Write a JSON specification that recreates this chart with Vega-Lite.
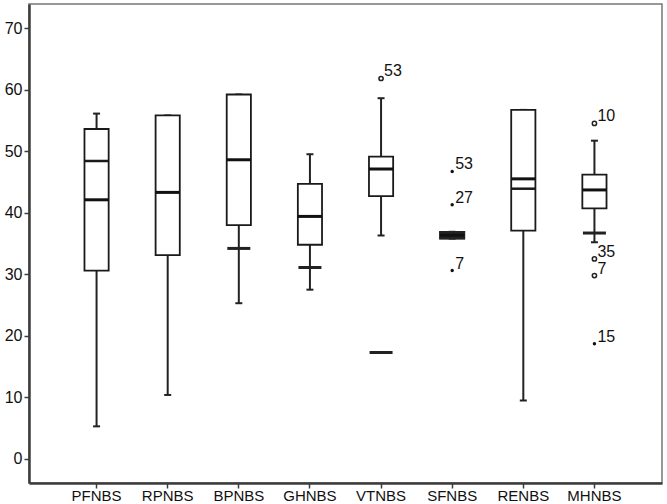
{
  "$schema": "https://vega.github.io/schema/vega-lite/v6.json",
  "width": 633,
  "height": 479,
  "autosize": "none",
  "padding": {"left": 29, "top": 4, "right": 5, "bottom": 21},
  "background": "white",
  "config": {
    "view": {"stroke": "#777777", "strokeWidth": 1.5},
    "tick": {"opacity": 1},
    "axis": {"grid": false, "domainColor": "#3c3c3c", "domainWidth": 2.5, "tickColor": "#3c3c3c", "tickWidth": 1.5, "tickSize": 5, "labelColor": "#111111", "labelFontSize": 16, "labelFont": "Liberation Sans", "title": null}
  },
  "datasets": {
    "boxes": [
      {"cat": "PFNBS", "lo": 5.3, "q1": 30.6, "med": 42.1, "q3": 53.6, "hi": 56.1},
      {"cat": "RPNBS", "lo": 10.4, "q1": 33.1, "med": 43.3, "q3": 55.8, "hi": 55.8},
      {"cat": "BPNBS", "lo": 25.3, "q1": 38.0, "med": 48.6, "q3": 59.2, "hi": 59.2},
      {"cat": "GHNBS", "lo": 27.5, "q1": 34.8, "med": 39.4, "q3": 44.7, "hi": 49.5},
      {"cat": "VTNBS", "lo": 36.3, "q1": 42.7, "med": 47.1, "q3": 49.1, "hi": 58.6},
      {"cat": "SFNBS", "lo": 35.8, "q1": 35.8, "med": 36.35, "q3": 36.9, "hi": 36.9},
      {"cat": "RENBS", "lo": 9.5, "q1": 37.1, "med": 45.5, "q3": 56.7, "hi": 56.7},
      {"cat": "MHNBS", "lo": 35.2, "q1": 40.7, "med": 43.7, "q3": 46.2, "hi": 51.7}
    ],
    "solid": [
      {"cat": "SFNBS", "lo": 35.8, "hi": 36.9}
    ],
    "second": [
      {"cat": "PFNBS", "v": 48.4},
      {"cat": "RENBS", "v": 43.9}
    ],
    "extra": [
      {"cat": "BPNBS", "v": 34.2},
      {"cat": "GHNBS", "v": 31.1},
      {"cat": "VTNBS", "v": 17.3},
      {"cat": "MHNBS", "v": 36.7}
    ],
    "outliers": [
      {"cat": "VTNBS", "v": 61.8, "label": "53", "kind": "open"},
      {"cat": "SFNBS", "v": 46.7, "label": "53", "kind": "filled"},
      {"cat": "SFNBS", "v": 41.3, "label": "27", "kind": "filled"},
      {"cat": "SFNBS", "v": 30.6, "label": "7", "kind": "filled"},
      {"cat": "MHNBS", "v": 54.5, "label": "10", "kind": "open"},
      {"cat": "MHNBS", "v": 32.5, "label": "35", "kind": "open"},
      {"cat": "MHNBS", "v": 29.8, "label": "7", "kind": "open"},
      {"cat": "MHNBS", "v": 18.7, "label": "15", "kind": "filled"}
    ]
  },
  "encoding": {
    "x": {
      "field": "cat", "type": "nominal", "sort": null,
      "scale": {"type": "band", "domain": ["PFNBS", "RPNBS", "BPNBS", "GHNBS", "VTNBS", "SFNBS", "RENBS", "MHNBS"], "paddingInner": 0.66, "paddingOuter": 0.78},
      "axis": {"labelAngle": 0, "labelPadding": 0, "labelFont": "Liberation Sans Narrow, Liberation Sans", "labelFontSize": 15}
    }
  },
  "layer": [
    {
      "data": {"name": "boxes"},
      "mark": {"type": "rule", "color": "#222222", "strokeWidth": 2},
      "encoding": {
        "y": {"field": "lo", "type": "quantitative", "scale": {"domain": [-3.9, 73.9], "nice": false, "zero": false}, "axis": {"values": [0, 10, 20, 30, 40, 50, 60, 70], "labelPadding": 2}},
        "y2": {"field": "q1"}
      }
    },
    {
      "data": {"name": "boxes"},
      "mark": {"type": "rule", "color": "#222222", "strokeWidth": 2},
      "encoding": {
        "y": {"field": "q3", "type": "quantitative"},
        "y2": {"field": "hi"}
      }
    },
    {
      "data": {"name": "boxes"},
      "mark": {"type": "tick", "color": "#222222", "size": 7, "thickness": 2, "opacity": 1},
      "encoding": {"y": {"field": "lo", "type": "quantitative"}}
    },
    {
      "data": {"name": "boxes"},
      "mark": {"type": "tick", "color": "#222222", "size": 7, "thickness": 2, "opacity": 1},
      "encoding": {"y": {"field": "hi", "type": "quantitative"}}
    },
    {
      "data": {"name": "boxes"},
      "mark": {"type": "bar", "fill": "white", "stroke": "#1a1a1a", "strokeWidth": 1.8},
      "encoding": {
        "y": {"field": "q1", "type": "quantitative"},
        "y2": {"field": "q3"}
      }
    },
    {
      "data": {"name": "solid"},
      "mark": {"type": "bar", "fill": "#222222", "stroke": "#222222", "strokeWidth": 1.5},
      "encoding": {
        "y": {"field": "lo", "type": "quantitative"},
        "y2": {"field": "hi"}
      }
    },
    {
      "data": {"name": "boxes"},
      "mark": {"type": "tick", "color": "#111111", "thickness": 3, "size": 24, "opacity": 1},
      "encoding": {"y": {"field": "med", "type": "quantitative"}}
    },
    {
      "data": {"name": "second"},
      "mark": {"type": "tick", "color": "#1a1a1a", "thickness": 2.5, "size": 24, "opacity": 1},
      "encoding": {"y": {"field": "v", "type": "quantitative"}}
    },
    {
      "data": {"name": "extra"},
      "mark": {"type": "tick", "color": "#222222", "thickness": 3, "size": 23, "opacity": 1},
      "encoding": {"y": {"field": "v", "type": "quantitative"}}
    },
    {
      "data": {"name": "outliers"},
      "transform": [{"filter": "datum.kind == 'open'"}],
      "mark": {"type": "point", "shape": "circle", "filled": false, "stroke": "#222222", "strokeWidth": 1.5, "size": 18, "opacity": 1},
      "encoding": {"y": {"field": "v", "type": "quantitative"}}
    },
    {
      "data": {"name": "outliers"},
      "transform": [{"filter": "datum.kind == 'filled'"}],
      "mark": {"type": "point", "shape": "circle", "filled": true, "fill": "#111111", "size": 12, "opacity": 1},
      "encoding": {"y": {"field": "v", "type": "quantitative"}}
    },
    {
      "data": {"name": "outliers"},
      "mark": {"type": "text", "align": "left", "baseline": "alphabetic", "dx": 3, "dy": -2, "fontSize": 16, "font": "Liberation Sans", "color": "#111111"},
      "encoding": {
        "y": {"field": "v", "type": "quantitative"},
        "text": {"field": "label", "type": "nominal"}
      }
    }
  ]
}
